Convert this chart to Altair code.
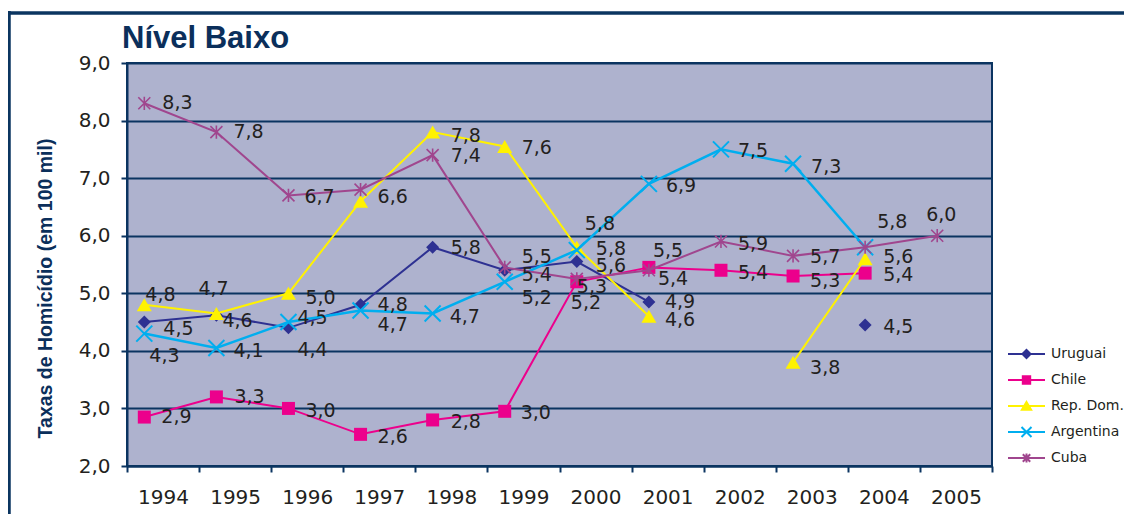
import altair as alt
import pandas as pd

# ---------------- data ----------------
years = list(range(1994, 2006))
series_names = ["Uruguai", "Chile", "Rep. Dom.", "Argentina", "Cuba"]

uruguai   = [4.5, 4.62, 4.4, 4.8, 5.8, 5.4, 5.55, 4.85, None, None, 4.45, None]
chile     = [2.85, 3.2, 3.0, 2.55, 2.8, 2.95, 5.2, 5.45, 5.4, 5.3, 5.35, None]
rep_dom   = [4.8, 4.65, 5.0, 6.6, 7.8, 7.55, 5.8, 4.6, None, 3.8, 5.6, None]
argentina = [4.3, 4.05, 4.5, 4.7, 4.65, 5.2, 5.75, 6.9, 7.5, 7.25, 5.8, None]
cuba      = [8.3, 7.8, 6.7, 6.8, 7.4, 5.45, 5.25, 5.4, 5.9, 5.65, 5.8, 6.0]

uruguai_lbl   = ["4,5", "4,6", "4,4", "4,8", "5,8", "5,4", "5,6", "4,9", None, None, "4,5", None]
chile_lbl     = ["2,9", "3,3", "3,0", "2,6", "2,8", "3,0", "5,2", "5,5", "5,4", "5,3", "5,4", None]
rep_dom_lbl   = ["4,8", "4,7", "5,0", "6,6", "7,8", "7,6", "5,8", "4,6", None, "3,8", "5,6", None]
argentina_lbl = ["4,3", "4,1", "4,5", "4,7", "4,7", "5,2", "5,8", "6,9", "7,5", "7,3", None, None]
cuba_lbl      = ["8,3", "7,8", "6,7", None, "7,4", "5,5", "5,3", "5,4", "5,9", "5,7", "5,8", "6,0"]

y_ticks = [2, 3, 4, 5, 6, 7, 8, 9]

# ---------------- layout / style ----------------
W, H = 865, 403
X0 = 1993.76
YMIN, YMAX = 2, 9
PX_YEAR = W / 12.0
PX_UNIT = H / float(YMAX - YMIN)
NAVY = "#0B3461"
TXT = "#231F20"
BG = "#AEB2CE"
TITLE_FONT = "Liberation Sans"
NUM_FONT = "DejaVu Sans"

colors = ["#2E3192", "#EC008C", "#FFF200", "#00AEEF", "#A0468E"]
line_w = [2, 2, 2, 2.5, 2]

# label nudges in pixels (left edge dx, vertical centre dy) relative to each point
uru_nudge = [(19, 7), (6, 6), (9, 22), (17, 0), (18, 1), (17, 5), (19, 4), (16, 0), None, None, (18, 2), None]
chile_nudge = [(17, 0), (18, 0), (17, 3), (17, 3), (18, 2), (16, 2), (-6, 21), (4, -16), (17, 3), (17, 5), (18, 2), None]
rd_nudge = [(1, -10), (-18, -24), (17, 5), (17, -4), (18, 4), (17, 2), (19, 2), (16, 4), None, (17, 6), (18, -2), None]
arg_nudge = [(5, 22), (17, 3), (9, -4), (17, 14), (17, 4), (17, 16), (8, -26), (17, 2), (17, 2), (18, 3), None, None]
cuba_nudge = [(18, 0), (17, 0), (16, 2), None, (18, 1), (17, -10), (0, 8), (9, 9), (17, 3), (17, 1), (12, -25), (-11, -21)]

marker = [
    dict(shape="diamond", filled=True, size=169),
    dict(shape="square", filled=True, size=169),
    dict(shape="triangle-up", filled=True, size=225),
    dict(shape="M-1,-1L1,1M-1,1L1,-1", filled=False, size=256, strokeWidth=2),
    dict(shape="M-1,-1L1,1M-1,1L1,-1M0,-1.1L0,1.1", filled=False, size=144, strokeWidth=1.6),
]
legend_paths = [
    "M-1,0L1,0M-0.22,0L0,-0.22L0.22,0L0,0.22Z",
    "M-1,0L1,0M-0.2,-0.2L0.2,-0.2L0.2,0.2L-0.2,0.2Z",
    "M-1,0L1,0M0,-0.22L0.25,0.2L-0.25,0.2Z",
    "M-1,0L1,0M-0.27,-0.27L0.27,0.27M-0.27,0.27L0.27,-0.27",
    "M-1,0L1,0M-0.2,-0.2L0.2,0.2M-0.2,0.2L0.2,-0.2M0,-0.24L0,0.24",
]

all_vals = [uruguai, chile, rep_dom, argentina, cuba]
all_lbls = [uruguai_lbl, chile_lbl, rep_dom_lbl, argentina_lbl, cuba_lbl]
all_nudges = [uru_nudge, chile_nudge, rd_nudge, arg_nudge, cuba_nudge]

x_scale = alt.Scale(domain=[X0, X0 + 12], nice=False, zero=False)
y_scale = alt.Scale(domain=[YMIN, YMAX], nice=False, zero=False)

x_axis = alt.Axis(
    values=[X0 + k for k in range(13)],
    labelExpr="datum.value > 2005.5 ? '' : format(round(datum.value + 0.24), 'd')",
    labelOffset=W / 24.0, labelOverlap=False, labelFlush=False, labelBound=False,
    labelFont=NUM_FONT, labelFontSize=20, labelColor=TXT, labelPadding=15,
    tickSize=6, tickColor=NAVY, tickWidth=2, domainColor=NAVY, domainWidth=2,
    grid=False, title=None,
)
y_axis = alt.Axis(
    values=y_ticks,
    labelExpr="replace(format(datum.value, '.1f'), '.', ',')",
    labelFont=NUM_FONT, labelFontSize=20, labelColor=TXT, labelPadding=11,
    tickSize=6, tickColor=NAVY, tickWidth=2, domainColor=NAVY, domainWidth=2,
    grid=True, gridColor=NAVY, gridWidth=2, gridOpacity=1,
    title="Taxas de Homicídio (em 100 mil)", titleFont=TITLE_FONT, titleFontSize=19.5,
    titleFontWeight="bold", titleColor="#0B2F5B", titleX=-82, titleY=225,
    titleBaseline="middle", titleAngle=270,
)

X = alt.X("year:Q", scale=x_scale, axis=x_axis)
Y = alt.Y("value:Q", scale=y_scale, axis=y_axis)

layers = []

# frame around the figure
one = pd.DataFrame({"a": [0]})
layers.append(alt.Chart(one).mark_rule(color="#0B3560", strokeWidth=3.5).encode(
    x=alt.value(-119), x2=alt.value(1010), y=alt.value(-50)))
layers.append(alt.Chart(one).mark_rule(color="#0B3560", strokeWidth=3.5).encode(
    x=alt.value(-118), y=alt.value(-52), y2=alt.value(470)))

label_rows = []
for i, name in enumerate(series_names):
    vals = all_vals[i]
    s, prev = 0, False
    rows = []
    for yr, v in zip(years, vals):
        if v is None:
            prev = False
            continue
        if not prev:
            s += 1
        prev = True
        rows.append({"year": yr, "value": v, "seg": s})
    df = pd.DataFrame(rows)
    layers.append(alt.Chart(df).mark_line(color=colors[i], strokeWidth=line_w[i]).encode(
        x=X, y=Y, detail="seg:N"))
    m = dict(marker[i])
    layers.append(alt.Chart(df).mark_point(color=colors[i], opacity=1, **m).encode(x=X, y=Y))
    for yr, v, t, nd in zip(years, vals, all_lbls[i], all_nudges[i]):
        if t is None or v is None or nd is None:
            continue
        label_rows.append({"year": yr + nd[0] / PX_YEAR, "value": v - nd[1] / PX_UNIT, "txt": t})

lab_df = pd.DataFrame(label_rows)
layers.append(alt.Chart(lab_df).mark_text(
    align="left", baseline="middle", font=NUM_FONT, fontSize=19, color=TXT).encode(
    x=X, y=Y, text="txt:N"))

# legend (drawn through a layer whose points are all invalid, so only the legend shows)
leg_df = pd.DataFrame({"series": series_names, "year": [None] * 5, "value": [None] * 5})
leg_kw = dict(orient="none", legendX=880, legendY=281, title=None,
              labelFont=NUM_FONT, labelFontSize=14, labelColor=TXT,
              symbolSize=1369, symbolStrokeWidth=2, labelOffset=5,
              rowPadding=6, clipHeight=20, padding=0)
layers.append(alt.Chart(leg_df).mark_point(filled=True, opacity=1, strokeWidth=2, size=1369).encode(
    x=X, y=Y,
    fill=alt.Fill("series:N", scale=alt.Scale(domain=series_names, range=colors), legend=alt.Legend(**leg_kw)),
    stroke=alt.Stroke("series:N", scale=alt.Scale(domain=series_names, range=colors), legend=alt.Legend(**leg_kw)),
    shape=alt.Shape("series:N", scale=alt.Scale(domain=series_names, range=legend_paths), legend=alt.Legend(**leg_kw)),
))

chart = alt.layer(*layers).properties(
    width=W, height=H,
    padding={"left": 119, "top": 55, "right": 132, "bottom": 48},
    autosize=alt.AutoSizeParams(type="none"),
    title=alt.TitleParams(text="Nível Baixo", anchor="start", frame="group",
                          font=TITLE_FONT, fontSize=31, fontWeight="bold",
                          color="#0B2F5B", offset=2, dx=-5, dy=72, baseline="alphabetic"),
).configure_view(fill=BG, stroke=NAVY, strokeWidth=2)

chart.save("out.html", embed_options={"renderer": "svg", "actions": False})
